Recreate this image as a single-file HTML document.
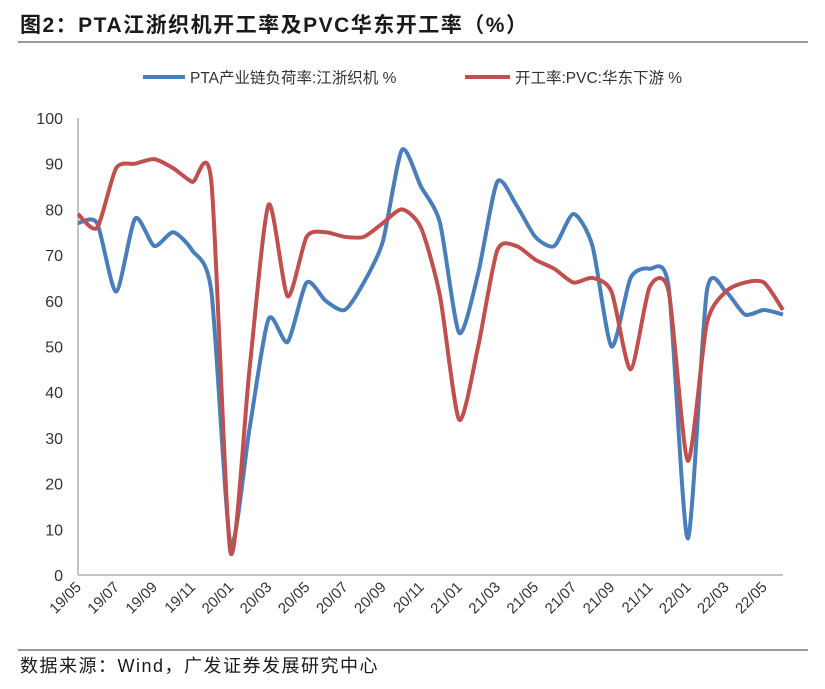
<!DOCTYPE html>
<html><head><meta charset="utf-8"><style>
body{margin:0;background:#fff;width:825px;height:684px;overflow:hidden;font-family:"Liberation Sans","Noto Sans CJK SC",sans-serif}
</style></head><body>
<svg width="825" height="684" font-family="Liberation Sans, Noto Sans CJK SC, sans-serif">
<text x="20" y="32" font-size="21" font-weight="bold" letter-spacing="1.5" fill="#1a1a1a">图2：PTA江浙织机开工率及PVC华东开工率（%）</text>
<line x1="18" y1="42" x2="808" y2="42" stroke="#333" stroke-width="1"/>
<g>
<line x1="143" y1="77" x2="185" y2="77" stroke="#4a7ebb" stroke-width="4"/>
<text x="190" y="83" font-size="15.5" fill="#333">PTA产业链负荷率:江浙织机 %</text>
<line x1="465" y1="77" x2="510" y2="77" stroke="#c0504d" stroke-width="4"/>
<text x="515" y="83" font-size="15.5" fill="#333">开工率:PVC:华东下游 %</text>
</g>
<g id="axes"></g>
<g id="series"></g>
<line x1="18" y1="650" x2="808" y2="650" stroke="#333" stroke-width="1"/>
<text x="20" y="672" font-size="18" letter-spacing="1.5" fill="#1a1a1a">数据来源：Wind，广发证券发展研究中心</text>
</svg>
<script>
const yTicks=[0,10,20,30,40,50,60,70,80,90,100];
const xLabels=["19/05","19/07","19/09","19/11","20/01","20/03","20/05","20/07","20/09","20/11","21/01","21/03","21/05","21/07","21/09","21/11","22/01","22/03","22/05"];
const ptaValues=[77,77,62,78,72,75,71,62,7,32,56,51,64,60,58,64,73,93,85,77,53,66,86,81,74,72,79,72,50,65,67,63,8,62,62,57,58,57];
const pvcValues=[79,76,89,90,91,89,86,86,5,45,81,61,74,75,74,74,77,80,76,61,34,50,71,72,69,67,64,65,62,45,63,62,25,55,62,64,64,58];
const NS="http://www.w3.org/2000/svg";
const X0=78,X1=783,Y0=575,Y1=118;
const xs=i=>X0+i*(X1-X0)/(ptaValues.length-1);
const ys=v=>Y0-(v/100)*(Y0-Y1);
function mk(t,a,p){const e=document.createElementNS(NS,t);for(const k in a)e.setAttribute(k,a[k]);p.appendChild(e);return e;}
const ax=document.getElementById('axes');
const yl=mk('line',{x1:X0,y1:Y1,x2:X0,y2:Y0,stroke:'#888'},ax);


const xl=mk('line',{x1:X0,y1:Y0,x2:X1,y2:Y0,stroke:'#888'},ax);


yTicks.forEach(v=>{const t=mk('text',{x:63,y:ys(v)+6,'font-size':16,'text-anchor':'end',fill:'#333'},ax);t.textContent=v;

});
xLabels.forEach((l,j)=>{const x=xs(j*2);const t=mk('text',{x:x+4,y:588,'font-size':15,'text-anchor':'end',fill:'#333',transform:`rotate(-45 ${x+4} 588)`},ax);t.textContent=l;

});
function path(vals){const p=vals.map((v,i)=>[xs(i),ys(v)]);let d=`M${p[0][0]},${p[0][1]}`;
for(let i=0;i<p.length-1;i++){const a=p[i-1]||p[i],b=p[i],c=p[i+1],e=p[i+2]||c;const k=0.12;
d+=` C${b[0]+(c[0]-a[0])*k},${b[1]+(c[1]-a[1])*k} ${c[0]-(e[0]-b[0])*k},${c[1]-(e[1]-b[1])*k} ${c[0]},${c[1]}`;}return d;}
const sg=document.getElementById('series');
const pb=mk('path',{d:path(ptaValues),fill:'none',stroke:'#4a7ebb','stroke-width':4,'stroke-linejoin':'round'},sg);


const pr=mk('path',{d:path(pvcValues),fill:'none',stroke:'#c0504d','stroke-width':4,'stroke-linejoin':'round'},sg);


</script>
</body></html>
